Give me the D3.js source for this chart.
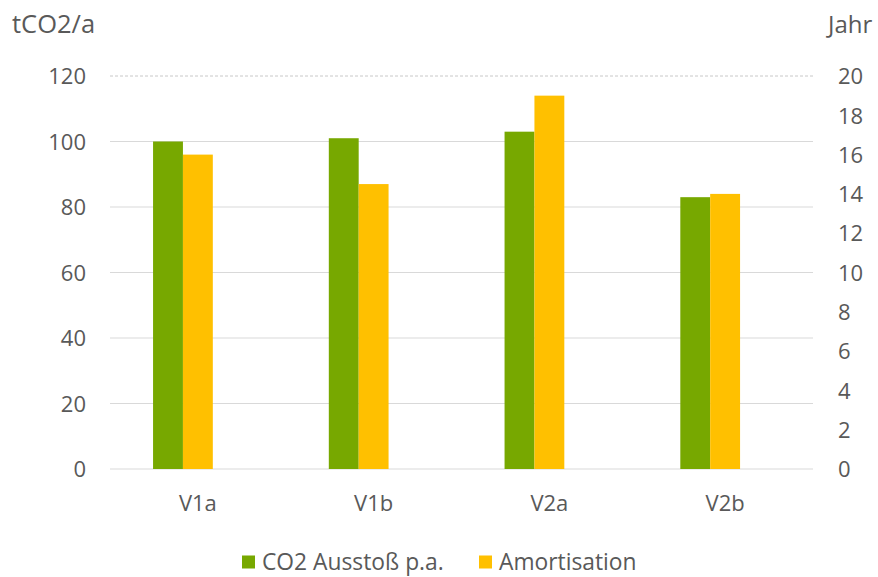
<!DOCTYPE html>
<html>
<head>
<meta charset="utf-8">
<script src="https://cdn.jsdelivr.net/npm/d3@7"></script>
<style>
  html, body { margin: 0; padding: 0; background: #fff; }
  svg text { font-family: "Open Sans", "Noto Sans", sans-serif; fill: #595959; }
</style>
</head>
<body>
<svg id="chart" width="878" height="577"></svg>
<script>
const categories = ["V1a", "V1b", "V2a", "V2b"];
const co2Values = [100, 101, 103, 83];        // tCO2/a (left axis)
const amortValues = [16, 14.5, 19, 14];        // Jahr (right axis)
const leftTicks = [0, 20, 40, 60, 80, 100, 120];
const rightTicks = [0, 2, 4, 6, 8, 10, 12, 14, 16, 18, 20];
const seriesNames = ["CO2 Ausstoß p.a.", "Amortisation"];
const seriesColors = ["#77a800", "#ffc000"];

const svg = d3.select("#chart");
const plotLeft = 110, plotRight = 813, plotTop = 76, plotBottom = 469;

const yL = d3.scaleLinear().domain([0, 120]).range([plotBottom, plotTop]);
const yR = d3.scaleLinear().domain([0, 20]).range([plotBottom, plotTop]);
const x0 = d3.scaleBand().domain(categories).range([plotLeft, plotRight]).padding(0);
const bw = x0.bandwidth();
const x1 = d3.scaleBand().domain([0, 1, 2]).range([bw * 0.245, bw * 0.755]).padding(0);

// gridlines
svg.append("g").selectAll("line").data(leftTicks).join("line")
  .attr("x1", plotLeft).attr("x2", plotRight)
  .attr("y1", d => yL(d)).attr("y2", d => yL(d))
  .attr("stroke", d => d === 120 ? "#c8c8c8" : "#d9d9d9").attr("stroke-width", 1)
  .attr("stroke-dasharray", d => d === 120 ? "3,2" : null);

// left axis
const axL = d3.axisLeft(yL).tickValues(leftTicks).tickSize(0).tickPadding(0);
const gL = svg.append("g").attr("transform", `translate(86,0)`).call(axL);
gL.select(".domain").remove();
gL.selectAll("text").attr("font-size", 22).style("font-family", "'Open Sans', sans-serif").attr("fill", "#595959").attr("dy", "0.35em");

// right axis
const axR = d3.axisRight(yR).tickValues(rightTicks).tickSize(0).tickPadding(0);
const gR = svg.append("g").attr("transform", `translate(838,0)`).call(axR);
gR.select(".domain").remove();
gR.selectAll("text").attr("font-size", 22).style("font-family", "'Open Sans', sans-serif").attr("fill", "#595959").attr("dy", "0.35em");

// x axis labels
const axX = d3.axisBottom(x0).tickSize(0).tickPadding(0);
const gX = svg.append("g").attr("transform", `translate(0,${plotBottom + 34})`).call(axX);
gX.select(".domain").remove();
gX.selectAll("text").attr("font-size", 22).style("font-family", "'Open Sans', sans-serif").attr("fill", "#595959").attr("dy", "0.35em");

// bars
const groups = svg.append("g").selectAll("g").data(categories).join("g")
  .attr("transform", d => `translate(${x0(d)},0)`);
groups.append("rect")
  .attr("x", x1(0)).attr("width", x1.bandwidth())
  .attr("y", (d, i) => yL(co2Values[i]))
  .attr("height", (d, i) => plotBottom - yL(co2Values[i]))
  .attr("fill", seriesColors[0]);
groups.append("rect")
  .attr("x", x1(1)).attr("width", x1.bandwidth())
  .attr("y", (d, i) => yR(amortValues[i]))
  .attr("height", (d, i) => plotBottom - yR(amortValues[i]))
  .attr("fill", seriesColors[1]);

// axis titles
svg.append("text").attr("x", 12).attr("y", 33).attr("font-size", 25.5).text("tCO2/a");
svg.append("text").attr("x", 828).attr("y", 33).attr("font-size", 24).text("Jahr");

// legend
const legendX = [242, 479];
const lg = svg.append("g").selectAll("g").data(seriesNames).join("g")
  .attr("transform", (d, i) => `translate(${legendX[i]},562)`);
lg.append("rect").attr("x", 0).attr("y", -6.5).attr("width", 13).attr("height", 13)
  .attr("fill", (d, i) => seriesColors[i]);
lg.append("text").attr("x", 20).attr("dy", "0.35em").attr("font-size", 22.8).text(d => d);
</script>
</body>
</html>
